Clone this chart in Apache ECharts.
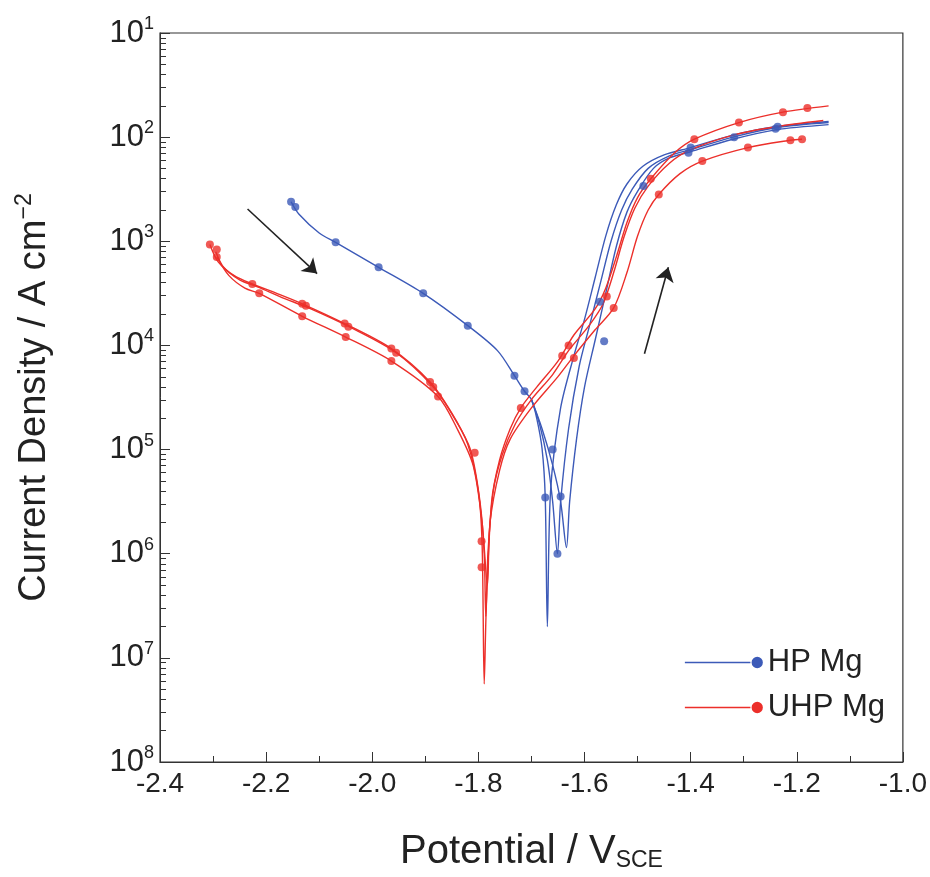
<!DOCTYPE html>
<html>
<head>
<meta charset="utf-8">
<script src="https://cdn.jsdelivr.net/npm/echarts@6/dist/echarts.min.js"></script>
<style>html,body{margin:0;background:#fff;overflow:hidden}#chart{width:930px;height:877px}</style>
</head>
<body>
<div id="chart"></div>
<script>
// [potential V, -log10(current density)]
var hpCathodic = [[-2.153,2.62],[-2.138,2.74],[-2.10,2.92],[-2.069,3.01],[-1.988,3.25],[-1.904,3.50],[-1.82,3.81],[-1.764,4.05],[-1.732,4.29],[-1.713,4.44],[-1.70,4.52]];
var hp1 = [[-1.69,4.7],[-1.68,4.99],[-1.674,5.46],[-1.670,6.7],[-1.664,5.4],[-1.645,4.6],[-1.62,4.1],[-1.60,3.75],[-1.58,3.35],[-1.56,2.95],[-1.54,2.65],[-1.52,2.45],[-1.49,2.28],[-1.45,2.17],[-1.40,2.1],[-1.32,1.98],[-1.24,1.9],[-1.14,1.85]];
var hp2 = [[-1.685,4.75],[-1.67,5.1],[-1.66,5.5],[-1.651,6.0],[-1.645,5.5],[-1.63,4.8],[-1.61,4.2],[-1.59,3.8],[-1.57,3.4],[-1.55,3.0],[-1.53,2.7],[-1.51,2.5],[-1.48,2.3],[-1.44,2.18],[-1.40,2.12],[-1.32,2.0],[-1.24,1.91],[-1.14,1.86]];
var hp3 = [[-1.68,4.8],[-1.66,5.15],[-1.645,5.5],[-1.634,5.94],[-1.628,5.5],[-1.615,4.9],[-1.60,4.4],[-1.58,3.95],[-1.56,3.5],[-1.54,3.05],[-1.52,2.72],[-1.50,2.52],[-1.47,2.3],[-1.44,2.2],[-1.40,2.14],[-1.32,2.02],[-1.24,1.93],[-1.14,1.88]];
var uhp1 = [[-2.306,3.03],[-2.29,3.2],[-2.26,3.33],[-2.226,3.41],[-2.18,3.5],[-2.132,3.6],[-2.052,3.79],[-1.964,4.03],[-1.891,4.35],[-1.85,4.65],[-1.82,4.95],[-1.80,5.4],[-1.793,5.9],[-1.789,7.25],[-1.785,6.5],[-1.775,5.5],[-1.76,5.1],[-1.74,4.8],[-1.72,4.6],[-1.69,4.4],[-1.65,4.15],[-1.62,3.9],[-1.58,3.65],[-1.56,3.45],[-1.54,3.15],[-1.52,2.82],[-1.50,2.58],[-1.475,2.4],[-1.43,2.15],[-1.393,2.02],[-1.309,1.86],[-1.226,1.76],[-1.14,1.7]];
var uhp2 = [[-2.295,3.1],[-2.28,3.25],[-2.25,3.37],[-2.215,3.44],[-2.17,3.54],[-2.12,3.64],[-2.04,3.83],[-1.955,4.07],[-1.885,4.4],[-1.845,4.7],[-1.815,5.0],[-1.797,5.5],[-1.789,6.0],[-1.786,6.6],[-1.782,6.0],[-1.772,5.4],[-1.755,5.05],[-1.73,4.75],[-1.70,4.52],[-1.66,4.28],[-1.63,4.05],[-1.59,3.8],[-1.565,3.6],[-1.545,3.3],[-1.525,2.95],[-1.505,2.68],[-1.48,2.47],[-1.44,2.25],[-1.40,2.12],[-1.32,1.98],[-1.24,1.9],[-1.15,1.84]];
var uhp3 = [[-2.293,3.15],[-2.27,3.33],[-2.24,3.45],[-2.213,3.5],[-2.132,3.72],[-2.05,3.92],[-1.964,4.15],[-1.876,4.49],[-1.84,4.8],[-1.81,5.15],[-1.793,5.7],[-1.783,6.3],[-1.778,5.7],[-1.76,5.2],[-1.74,4.9],[-1.70,4.6],[-1.65,4.3],[-1.62,4.1],[-1.58,3.85],[-1.545,3.64],[-1.52,3.3],[-1.50,2.95],[-1.48,2.7],[-1.46,2.55],[-1.42,2.35],[-1.378,2.23],[-1.292,2.1],[-1.212,2.03],[-1.19,2.02]];
var hpMarkers = [[-2.153,2.62],[-2.145,2.67],[-2.069,3.01],[-1.988,3.25],[-1.904,3.50],[-1.82,3.81],[-1.732,4.29],[-1.713,4.44],[-1.674,5.46],[-1.651,6.0],[-1.66,5.0],[-1.645,5.45],[-1.571,3.58],[-1.563,3.96],[-1.489,2.47],[-1.404,2.15],[-1.40,2.1],[-1.318,2.0],[-1.236,1.9],[-1.24,1.92]];
var uhpMarkers = [[-2.306,3.03],[-2.293,3.08],[-2.293,3.15],[-2.226,3.41],[-2.213,3.5],[-2.132,3.6],[-2.125,3.62],[-2.132,3.72],[-2.052,3.79],[-2.045,3.82],[-2.05,3.92],[-1.964,4.03],[-1.955,4.07],[-1.964,4.15],[-1.891,4.35],[-1.885,4.4],[-1.876,4.49],[-1.807,5.03],[-1.794,5.88],[-1.794,6.13],[-1.72,4.6],[-1.642,4.1],[-1.63,4.0],[-1.62,4.12],[-1.558,3.53],[-1.545,3.64],[-1.475,2.4],[-1.46,2.55],[-1.393,2.02],[-1.378,2.23],[-1.309,1.86],[-1.292,2.1],[-1.226,1.76],[-1.212,2.03],[-1.18,1.72],[-1.19,2.02]];
var arrows = [[[-2.235,2.69],[-2.104,3.31]],[[-1.487,4.08],[-1.442,3.25]]];
var xTicks = {min:-2.4, max:-1.0, interval:0.2};

var BLUE = '#3c5ab8', RED = '#ec2f2a';
function toI(arr){ return arr.map(function(p){ return [p[0], Math.pow(10, -p[1])]; }); }
function curve(name, data, color){
    return {name:name, type:'line', data:toI(data), smooth:0.3, showSymbol:false,
        lineStyle:{color:color, width:1.4}, itemStyle:{color:color}, z:2};
}
var series = [
    curve('HP Mg', hpCathodic.concat(hp1), BLUE),
    curve('HP Mg', [hpCathodic[hpCathodic.length-1]].concat(hp2), BLUE),
    curve('HP Mg', [hpCathodic[hpCathodic.length-1]].concat(hp3), BLUE),
    curve('UHP Mg', uhp1, RED),
    curve('UHP Mg', uhp2, RED),
    curve('UHP Mg', uhp3, RED),
    {name:'HP Mg', type:'scatter', data:toI(hpMarkers), symbolSize:8, itemStyle:{color:BLUE}, z:3},
    {name:'UHP Mg', type:'scatter', data:toI(uhpMarkers), symbolSize:8, itemStyle:{color:RED}, z:3},
    {type:'line', data:[], markLine:{silent:true, symbol:['none','arrow'], symbolSize:14,
        lineStyle:{color:'#222', width:1.6, type:'solid'}, label:{show:false},
        data:arrows.map(function(a){ return [{coord:[a[0][0], Math.pow(10,-a[0][1])]},{coord:[a[1][0], Math.pow(10,-a[1][1])]}]; })}}
];

var chart = echarts.init(document.getElementById('chart'), null, {width:930, height:877});
chart.setOption({
    animation:false,
    textStyle:{fontFamily:'Liberation Sans'},
    grid:{left:160, right:22, top:33, bottom:112, show:true, borderColor:'#333', borderWidth:1.2},
    legend:{data:['HP Mg','UHP Mg'], orient:'vertical', right:40, top:642, itemWidth:78, itemHeight:12, itemGap:14,
        textStyle:{fontSize:31, color:'#222'},
        icon:'path://M0,5.4 L58,5.4 L58,6.6 L0,6.6 Z M64,1 A5,5 0 1,1 63.99,1 Z'},
    xAxis:{type:'value', min:xTicks.min, max:xTicks.max, interval:xTicks.interval,
        axisLine:{lineStyle:{color:'#333'}}, axisTick:{inside:true, length:10},
        minorTick:{show:true, splitNumber:2, length:6}, splitLine:{show:false},
        axisLabel:{fontSize:28, color:'#222', margin:8, formatter:function(v){ return v.toFixed(1); }},
        name:'Potential / V{s|SCE}', nameLocation:'middle', nameGap:70,
        nameTextStyle:{fontSize:40, color:'#222', rich:{s:{fontSize:23, verticalAlign:'bottom', padding:[16,0,0,0]}}}},
    yAxis:{type:'log', min:1e-8, max:1e-1, logBase:10,
        axisLine:{lineStyle:{color:'#333'}}, axisTick:{inside:true, length:10},
        minorTick:{show:true, splitNumber:9, length:6}, splitLine:{show:false},
        axisLabel:{fontSize:31, color:'#222', margin:6, rich:{s:{fontSize:18, padding:[0,0,18,0]}},
            formatter:function(v){ return '10{s|' + Math.round(-Math.log10(v)) + '}'; }},
        name:'Current Density / A cm{s|−2}', nameLocation:'middle', nameGap:104,
        nameTextStyle:{fontSize:38, color:'#222', rich:{s:{fontSize:23, padding:[0,0,20,0]}}}},
    series:series
});
</script>
</body>
</html>
